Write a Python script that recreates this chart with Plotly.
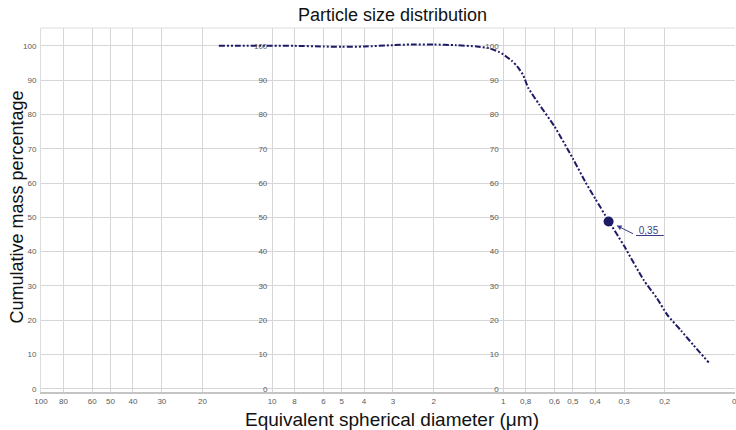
import math
import plotly.graph_objects as go

# ---- data ----
diameter_um = [17, 14, 10, 8, 6, 5, 4, 3, 2.5, 2, 1.6, 1.3, 1.15, 1.05, 1.0,
               0.92, 0.87, 0.82, 0.78, 0.7, 0.6, 0.5, 0.44, 0.4, 0.35, 0.3,
               0.247, 0.216, 0.195, 0.17, 0.15, 0.129]
cum_mass_pct = [100.0, 100.0, 100.0, 100.0, 99.8, 99.7, 99.8, 100.2, 100.4, 100.4,
                100.2, 99.8, 99.3, 98.3, 97.5, 95.7, 94.0, 91.5, 87.8, 83.0,
                76.5, 67.2, 60.2, 55.5, 49.0, 41.7, 31.8, 26.4, 21.6, 17.0,
                12.7, 7.7]

marker_x = [0.35]
marker_y = [48.8]
marker_label = "0,35"

x_tickvals = [100, 80, 60, 50, 40, 30, 20, 10, 8, 6, 5, 4, 3, 2, 1,
              0.8, 0.6, 0.5, 0.4, 0.3, 0.2, 0.1]
x_ticktext = ["100", "80", "60", "50", "40", "30", "20", "10", "8", "6", "5",
              "4", "3", "2", "1", "0,8", "0,6", "0,5", "0,4", "0,3", "0,2", "0"]
y_tickvals = [0, 10, 20, 30, 40, 50, 60, 70, 80, 90, 100]
y_ticktext = [str(v) for v in y_tickvals]

title_text = "Particle size distribution"
x_title = "Equivalent spherical diameter (μm)"
y_title = "Cumulative mass percentage"

LINE = "#1e1b66"
GRID = "#d6d6d6"
TICK = "#5a5a5a"
FONT = "Liberation Sans, Arial, sans-serif"

fig = go.Figure()
fig.add_trace(go.Scatter(
    x=diameter_um, y=cum_mass_pct, mode="lines",
    line=dict(color=LINE, width=2, dash="6px,2px,2px,2px,2px,2px",
              shape="spline", smoothing=0.6),
    hoverinfo="skip", showlegend=False))
fig.add_trace(go.Scatter(
    x=marker_x, y=marker_y, mode="markers",
    marker=dict(color=LINE, size=10), showlegend=False))
# invisible helpers so the extra y label axes are drawn
for ya in ("y2", "y3"):
    fig.add_trace(go.Scatter(x=[None], y=[None], yaxis=ya, showlegend=False,
                             hoverinfo="skip"))

yrange = [-0.9, 105.2]
common_y = dict(range=yrange, tickvals=y_tickvals, ticktext=y_ticktext,
                tickfont=dict(size=8, color=TICK, family=FONT),
                zeroline=False, fixedrange=True)

fig.update_layout(
    width=736, height=430,
    margin=dict(l=41, r=1, t=28, b=38),
    paper_bgcolor="white", plot_bgcolor="white",
    font=dict(family=FONT),
    title=dict(text=title_text, x=0.5065, xref="paper", y=0.965,
               yanchor="middle", xanchor="center",
               font=dict(size=18, color="#111111", family=FONT)),
    xaxis=dict(type="log", range=[2, -1.003], tickvals=x_tickvals, ticktext=x_ticktext,
               tickangle=0, ticklabeloverflow="allow",
               tickfont=dict(size=8, color=TICK, family=FONT),
               showgrid=True, gridcolor=GRID, gridwidth=1,
               showline=True, linecolor="#c4c4c4", linewidth=2,
               ticks="", zeroline=False, automargin=False, fixedrange=True),
    yaxis=dict(**common_y, showgrid=True, gridcolor=GRID, gridwidth=1,
               showline=True, linecolor="#dddddd", linewidth=1,
               ticks="", ticklabelstandoff=2, automargin=False),
    yaxis2=dict(**common_y, overlaying="y", anchor="free", position=1/3,
                showgrid=False, showline=False, ticks="", ticklabelstandoff=5,
                automargin=False),
    yaxis3=dict(**common_y, overlaying="y", anchor="free", position=2/3,
                showgrid=False, showline=False, ticks="", ticklabelstandoff=5,
                automargin=False),
    shapes=[dict(type="line", xref="paper", yref="paper", x0=0, x1=1, y0=1, y1=1,
                 line=dict(color="#dddddd", width=1))],
    annotations=[
        dict(text=x_title, xref="paper", yref="paper", x=0.506, y=-0.075,
             xanchor="center", yanchor="middle", showarrow=False,
             font=dict(size=19, color="#111111", family=FONT)),
        dict(text=y_title, xref="paper", yref="paper", x=-0.034, y=0.508,
             xanchor="center", yanchor="middle", textangle=-90, showarrow=False,
             font=dict(size=18, color="#111111", family=FONT)),
        dict(x=math.log10(marker_x[0]), y=marker_y[0], xref="x", yref="y",
             text="", showarrow=True,
             ax=26, ay=13, arrowhead=2, arrowsize=1,
             arrowwidth=1, arrowcolor="#3b3b8a", standoff=9),
        dict(x=math.log10(marker_x[0]), y=marker_y[0], xref="x", yref="y",
             text="<u>&nbsp;" + marker_label + "&nbsp;&nbsp;</u>", showarrow=False,
             xanchor="left", yanchor="bottom", xshift=25, yshift=-17,
             font=dict(size=10, color="#3b3b8a", family=FONT)),
    ],
)

fig.write_html("out.html", config={"displayModeBar": False},
               post_script="document.body.style.margin='0px';")
